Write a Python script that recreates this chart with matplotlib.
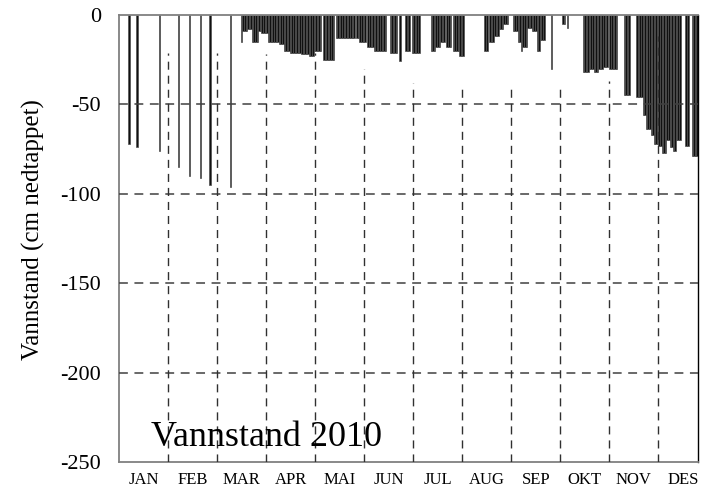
import numpy as np
import matplotlib
matplotlib.use('Agg')
import matplotlib.pyplot as plt

plt.rcParams['font.family'] = ['Liberation Serif', 'DejaVu Serif']

# day of year (0 = 1 Jan) and water level in cm below full
days = [6, 11, 25, 37, 44, 51, 57, 70,
        77, 78, 79, 80, 81, 82, 83, 84, 85, 86, 87, 88, 89, 90, 91, 92, 93,
        94, 95, 96, 97, 98, 99, 100, 101, 102, 103, 104, 105, 106, 107,
        108, 109, 110, 111, 112, 113, 114, 115, 116, 117, 118, 119, 120,
        121, 122, 123, 124, 125, 126, 127, 129, 130, 131, 132, 133, 134,
        135, 137, 138, 139, 140, 141, 142, 143, 144, 145, 146, 147, 148,
        150, 151, 152, 153, 154, 155, 157, 158, 159, 160, 161, 162, 163,
        164, 165, 166, 167, 168, 171, 172, 173, 174, 175, 177, 181, 182,
        183, 185, 186, 187, 188, 189, 197, 198, 199, 200, 201, 202, 203,
        204, 205, 207, 208, 209, 211, 212, 213, 214, 215, 216, 217,
        231, 232, 234, 235, 236, 237, 238, 239, 240, 241, 242, 243, 244,
        245, 249, 250, 251, 252, 253, 254, 255, 256, 257, 258, 259, 260,
        261, 262, 263, 264, 265, 266, 267, 268, 273, 280, 281, 283,
        293, 294, 295, 296, 297, 298, 299, 300, 301, 302, 303, 304, 305,
        306, 307, 308, 310, 311, 312, 313, 314,
        319, 320, 321, 322, 327, 328, 329, 330, 331, 332, 333, 334, 335,
        336, 337, 338, 339, 340, 341, 342, 343, 344, 345, 346, 347, 348,
        349, 350, 351, 352, 353, 354, 358, 359, 362, 363, 364, 365]
levels = [-72, -74, -76, -85, -90, -91, -95, -96,
          -15, -9, -9, -9, -8, -8, -8, -15, -15, -15, -15, -9, -9, -10, -10, -10, -10,
          -15, -15, -15, -15, -15, -15, -15, -16, -16, -16, -20, -20, -20, -20,
          -21, -21, -21, -21, -21, -21, -21, -22, -22, -22, -22, -22, -23,
          -23, -23, -20, -20, -20, -20, -20, -25, -25, -25, -25, -25, -25,
          -25, -13, -13, -13, -13, -13, -13, -13, -13, -13, -13, -13, -13,
          -13, -13, -15, -15, -15, -15, -18, -18, -18, -18, -20, -20, -20,
          -20, -20, -20, -20, -20, -21, -21, -21, -21, -21, -26, -20, -20,
          -20, -21, -21, -21, -21, -21, -20, -20, -20, -18, -18, -18, -15,
          -15, -15, -18, -18, -18, -20, -20, -20, -20, -23, -23, -23,
          -20, -20, -15, -15, -15, -12, -12, -12, -8, -8, -8, -5, -5,
          -5, -9, -9, -9, -15, -15, -20, -18, -18, -18, -7, -7, -7,
          -9, -9, -9, -20, -20, -14, -14, -14, -30, -5, -5, -7,
          -32, -32, -32, -32, -30, -30, -30, -32, -32, -32, -30, -30, -30,
          -29, -29, -29, -30, -30, -30, -30, -30,
          -45, -45, -45, -45, -46, -46, -46, -46, -56, -56, -64, -64, -64,
          -67, -67, -72, -72, -72, -73, -73, -77, -77, -77, -70, -70, -74,
          -74, -76, -76, -70, -70, -70, -73, -73, -79, -79, -79, -79]

months = ['JAN', 'FEB', 'MAR', 'APR', 'MAI', 'JUN',
          'JUL', 'AUG', 'SEP', 'OKT', 'NOV', 'DES']
yticks = [0, -50, -100, -150, -200, -250]
grid_days = [31, 62, 93, 124, 155, 186, 217, 248, 279, 310, 341]
grid_tops = [-21, -21, -22, -21, -30, -38, -40, -39, -41, -37, -12]

fig = plt.figure(figsize=(7.09, 4.91), dpi=100)
ax = fig.add_axes([119 / 709, 29 / 491, 579 / 709, 447 / 491])

ax.bar(days, levels, width=1.0, align='edge', color='#111111',
       edgecolor='#505050', linewidth=0.5, zorder=2)

dash = (0, (5.8, 4.3))
for y in [-50, -100, -150, -200]:
    ax.axhline(y, color='#404040', lw=1.1, linestyle=dash, zorder=3)
ax.vlines(grid_days, -250, grid_tops, colors='#303030', lw=1.0,
          linestyles=[dash], zorder=3)

ax.set_xlim(0, 366)
ax.set_ylim(-250, 0)
ax.set_yticks(yticks)
ax.set_yticklabels([str(v) for v in yticks], fontsize=16)
ax.set_xticks([15.5 + 31 * i for i in range(12)])
ax.set_xticklabels(months, fontsize=12)
ax.tick_params(axis='both', length=0)
ax.tick_params(axis='y', pad=13)
ax.tick_params(axis='x', pad=7)

ax.set_ylabel('Vannstand (cm nedtappet)', fontsize=18)
ax.yaxis.set_label_coords(-0.128, 0.52)

for side in ['left', 'top', 'bottom']:
    ax.spines[side].set_color('#808080')
    ax.spines[side].set_linewidth(1.3)
ax.spines['right'].set_color('black')
ax.spines['right'].set_linewidth(1.0)

ax.text(20, -241, 'Vannstand 2010', fontsize=26, va='baseline', ha='left')

fig.savefig('out.png', dpi=100)
